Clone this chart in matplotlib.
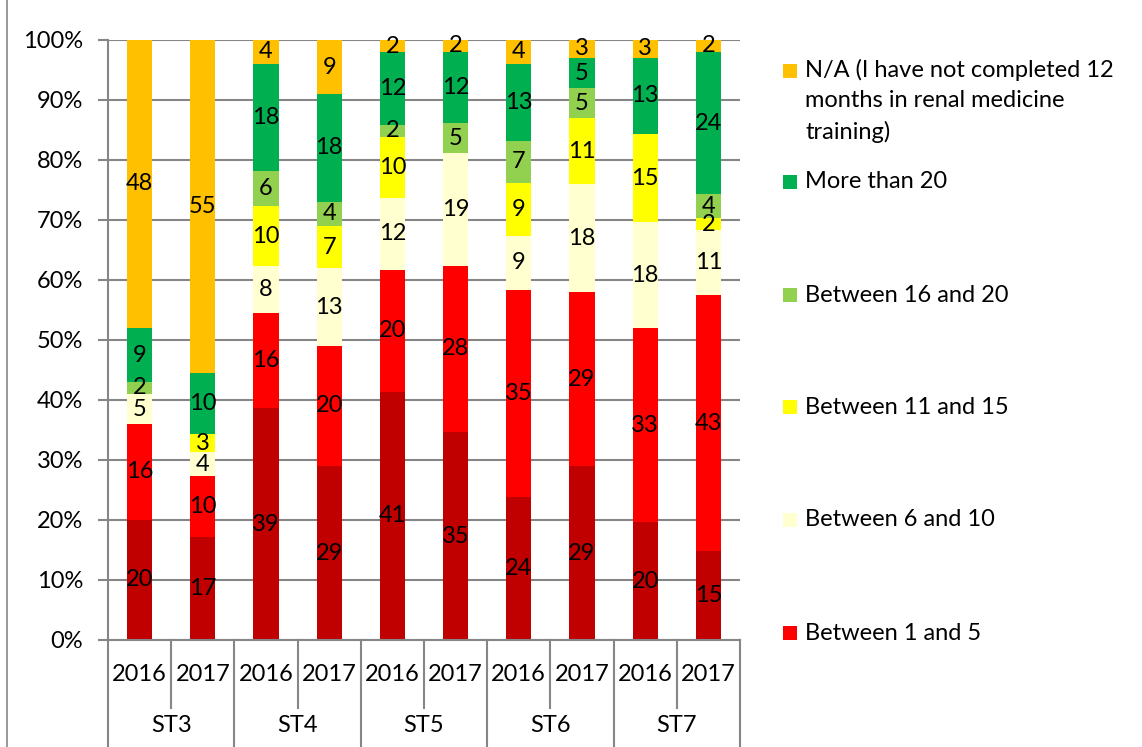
import matplotlib.pyplot as plt
import matplotlib.transforms as mtransforms
from matplotlib.patches import Rectangle
import numpy as np

plt.rcParams["font.family"] = ["Lato", "DejaVu Sans"]

years = ["2016", "2017"] * 5
groups = ["ST3", "ST4", "ST5", "ST6", "ST7"]

# counts per bar, bottom to top
none_vals = [20, 17, 39, 29, 41, 35, 24, 29, 20, 15]
b1_5 = [16, 10, 16, 20, 20, 28, 35, 29, 33, 43]
b6_10 = [5, 4, 8, 13, 12, 19, 9, 18, 18, 11]
b11_15 = [0, 3, 10, 7, 10, 0, 9, 11, 15, 2]
b16_20 = [2, 0, 6, 4, 2, 5, 7, 5, 0, 4]
more20 = [9, 10, 18, 18, 12, 12, 13, 5, 13, 24]
na_vals = [48, 55, 4, 9, 2, 2, 4, 3, 3, 2]

series = [none_vals, b1_5, b6_10, b11_15, b16_20, more20, na_vals]
colors = ["#C00000", "#FF0000", "#FFFFD0", "#FFFF00", "#92D050", "#00B050", "#FFC000"]
legend_labels = [
    "N/A (I have not completed 12\nmonths in renal medicine\ntraining)",
    "More than 20",
    "Between 16 and 20",
    "Between 11 and 15",
    "Between 6 and 10",
    "Between 1 and 5",
]
legend_colors = ["#FFC000", "#00B050", "#92D050", "#FFFF00", "#FFFFD0", "#FF0000"]

FS = 17
W, H = 1142, 747
fig = plt.figure(figsize=(W / 100, H / 100), dpi=100)
ax = fig.add_axes([108 / W, 1 - 640 / H, (740 - 108) / W, 600 / H])

data = np.array(series, dtype=float)
pct = data / data.sum(axis=0)
x = np.arange(len(years))
bottom = np.zeros(len(years))
for vals, p, c in zip(series, pct, colors):
    ax.bar(x, p, bottom=bottom, width=0.4, color=c, zorder=3)
    for xi, v, pi, b in zip(x, vals, p, bottom):
        if v > 0:
            ax.text(xi, b + pi / 2, str(v), ha="center", va="center",
                    fontsize=FS, color="black", zorder=4)
    bottom += p

grid_c = "#868686"
ax.set_xlim(-0.5, 9.5)
ax.set_ylim(0, 1)
ax.set_yticks(np.arange(0, 1.01, 0.1))
ax.set_yticklabels([f"{int(round(t * 100))}%" for t in np.arange(0, 1.01, 0.1)], fontsize=FS)
ax.yaxis.grid(True, color=grid_c, linewidth=1.5, zorder=0)
ax.set_axisbelow(True)
for s in ["top", "right", "bottom"]:
    ax.spines[s].set_visible(False)
ax.spines["left"].set_color(grid_c)
ax.spines["left"].set_linewidth(1.5)
ax.tick_params(axis="y", length=7, width=1.5, color=grid_c, pad=11)
ax.set_xticks([])

# multi-level category axis
trans = mtransforms.blended_transform_factory(ax.transData, ax.transAxes)
ax.plot([-0.5, 9.5], [0, 0], color=grid_c, lw=1.5, transform=trans, clip_on=False, zorder=5)
for b in np.arange(-0.5, 10, 1.0):
    low = -0.18 if (b + 0.5) % 2 == 0 else -0.113
    ax.plot([b, b], [0, low], color=grid_c, lw=1.5, transform=trans, clip_on=False)
for xi, yr in zip(x, years):
    ax.text(xi, -0.058, yr, ha="center", va="center", fontsize=FS, transform=trans)
for gi, g in enumerate(groups):
    ax.text(2 * gi + 0.5, -0.142, g, ha="center", va="center", fontsize=FS, transform=trans)

# chart area border on the left
fig.add_artist(plt.Line2D([7 / W, 7 / W], [0, 1], color=grid_c, lw=1.2))

# legend
leg_y = [71, 182, 295, 407, 520, 633]
for lab, c, yy in zip(legend_labels, legend_colors, leg_y):
    fig.add_artist(Rectangle((783 / W, 1 - (yy + 7) / H), 14 / W, 14 / H,
                             facecolor=c, edgecolor="none", transform=fig.transFigure))
    if "\n" in lab:
        fig.text(805 / W, 1 - (yy - 12) / H, lab, ha="left", va="top",
                 fontsize=FS, linespacing=1.55)
    else:
        fig.text(805 / W, 1 - yy / H, lab, ha="left", va="center", fontsize=FS)

fig.savefig("out.png", dpi=100)
